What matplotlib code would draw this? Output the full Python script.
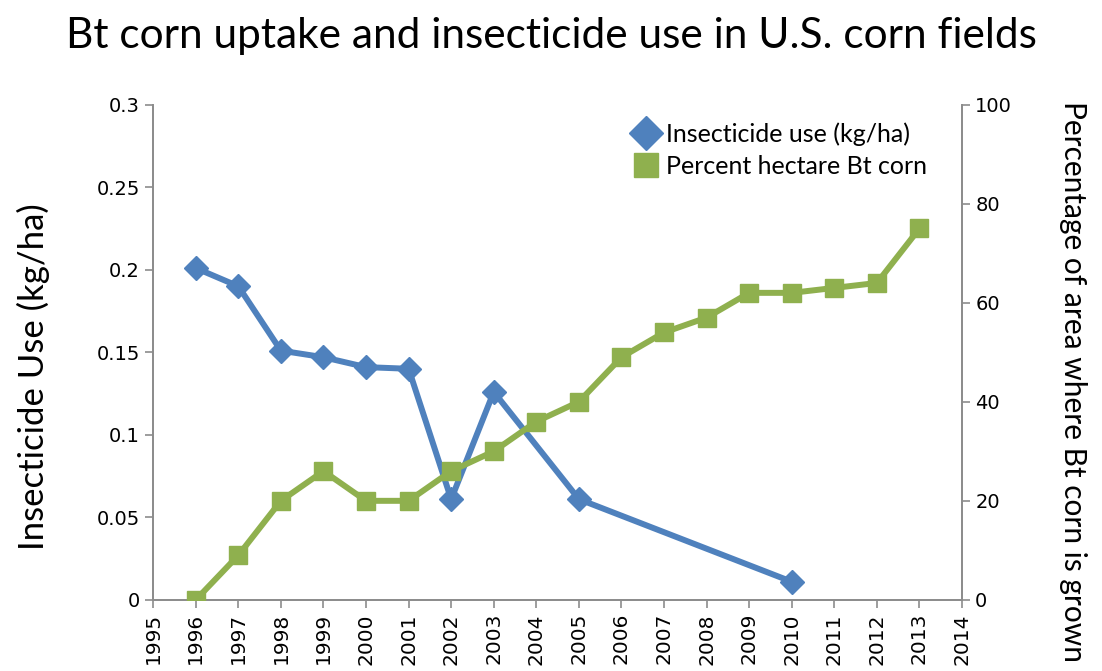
"""Bt corn uptake vs insecticide use in US corn fields"""

import matplotlib
matplotlib.use("Agg")
import matplotlib.pyplot as plt

# data
insect_years = [1996, 1997, 1998, 1999, 2000, 2001, 2002, 2003, 2005, 2010]
insect_use = [0.201, 0.19, 0.151, 0.147, 0.141, 0.140, 0.061, 0.126, 0.061, 0.011]

bt_years = [1996, 1997, 1998, 1999, 2000, 2001, 2002, 2003, 2004, 2005,
            2006, 2007, 2008, 2009, 2010, 2011, 2012, 2013]
bt_percent = [0, 9, 20, 26, 20, 20, 26, 30, 36, 40,
              49, 54, 57, 62, 62, 63, 64, 75]

year_ticks = list(range(1995, 2015))
left_ticks = [0, 0.05, 0.1, 0.15, 0.2, 0.25, 0.3]
left_labels = ["0", "0.05", "0.1", "0.15", "0.2", "0.25", "0.3"]
right_ticks = [0, 20, 40, 60, 80, 100]

blue = "#4F81BD"
green = "#8FB04E"
spine_col = "#8C8C8C"

fig = plt.figure(figsize=(11.02, 6.71), dpi=100)
ax = fig.add_axes([0.139, 0.106, 0.734, 0.738])
ax2 = ax.twinx()

l1, = ax.plot(insect_years, insect_use, color=blue, lw=4.3, marker="D",
              ms=12, zorder=3, label="Insecticide use (kg/ha)")
l2, = ax2.plot(bt_years, bt_percent, color=green, lw=4.3, marker="s",
               ms=13, zorder=3, label="Percent hectare Bt corn")

ax.set_xlim(1995, 2014)
ax.set_ylim(0, 0.3)
ax2.set_ylim(0, 100)

ax.set_xticks(year_ticks)
ax.set_xticklabels([str(y) for y in year_ticks], rotation=90, fontsize=14.5)
ax.set_yticks(left_ticks)
ax.set_yticklabels(left_labels, fontsize=14)
ax2.set_yticks(right_ticks)
ax2.tick_params(axis="y", labelsize=14)

for a in (ax, ax2):
    a.spines["top"].set_visible(False)
    for s in ("left", "right", "bottom"):
        a.spines[s].set_color(spine_col)
        a.spines[s].set_linewidth(1.3)
    a.tick_params(colors=spine_col, labelcolor="black", length=6, width=1.2)

ax.set_ylabel("Insecticide Use (kg/ha)", fontsize=25, family="Lato")
ax.yaxis.set_label_coords(-0.128, 0.45)
ax2.set_ylabel("Percentage of area where Bt corn is grown", fontsize=21.5,
               family="Lato", rotation=-90)
ax2.yaxis.set_label_coords(1.155, 0.44)

fig.suptitle("Bt corn uptake and insecticide use in U.S. corn fields",
             fontsize=30.5, family="Lato", y=0.975)

leg = ax.legend(handles=[l1, l2], loc="upper right", bbox_to_anchor=(0.985, 1.01),
                frameon=False, handlelength=0.8, handletextpad=0.4,
                labelspacing=0.35, prop={"family": "Lato", "size": 18})
for h in leg.legend_handles:
    h.set_linestyle("none")
    h.set_markersize(17)

plt.savefig("out.png", dpi=100)
